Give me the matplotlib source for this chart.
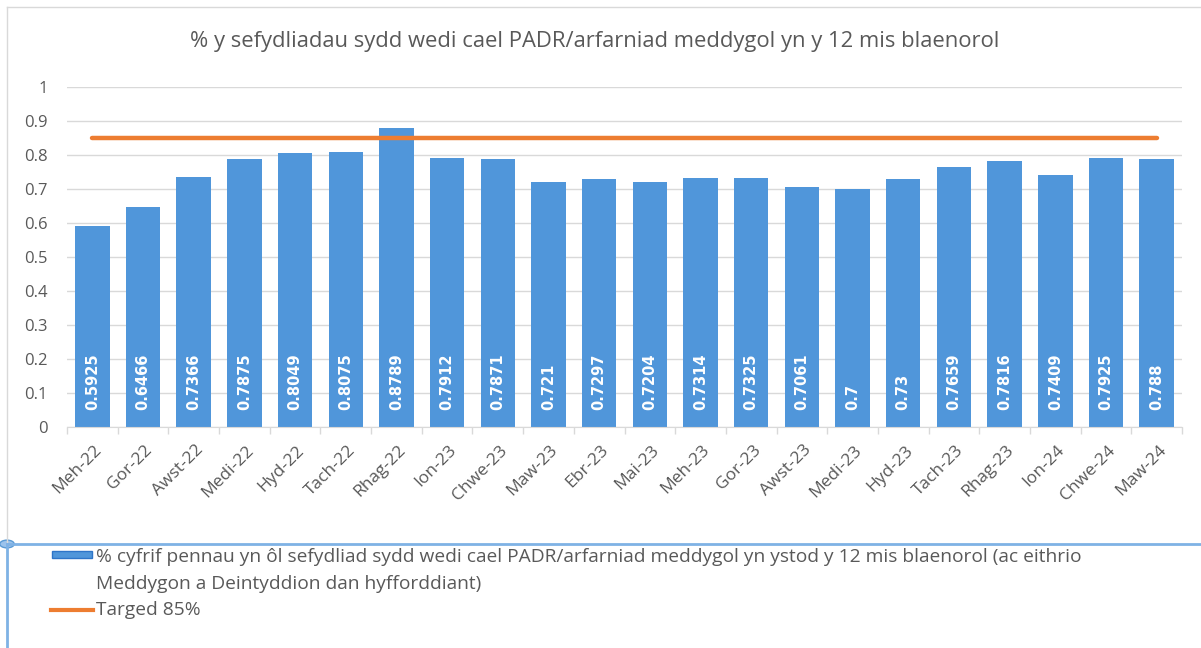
import numpy as np
import matplotlib
matplotlib.use("Agg")
import matplotlib.pyplot as plt
from matplotlib.lines import Line2D
from matplotlib.patches import Rectangle, Circle
from matplotlib.transforms import ScaledTranslation

months = ["Meh-22", "Gor-22", "Awst-22", "Medi-22", "Hyd-22", "Tach-22", "Rhag-22",
          "Ion-23", "Chwe-23", "Maw-23", "Ebr-23", "Mai-23", "Meh-23", "Gor-23",
          "Awst-23", "Medi-23", "Hyd-23", "Tach-23", "Rhag-23", "Ion-24", "Chwe-24", "Maw-24"]
pct_padr = [0.5925, 0.6466, 0.7366, 0.7875, 0.8049, 0.8075, 0.8789, 0.7912, 0.7871, 0.721,
            0.7297, 0.7204, 0.7314, 0.7325, 0.7061, 0.7, 0.73, 0.7659, 0.7816, 0.7409,
            0.7925, 0.788]
target = [0.85] * len(months)
y_ticks = [0, 0.1, 0.2, 0.3, 0.4, 0.5, 0.6, 0.7, 0.8, 0.9, 1]

title = "% y sefydliadau sydd wedi cael PADR/arfarniad meddygol yn y 12 mis blaenorol"
bar_name = ["% cyfrif pennau yn ôl sefydliad sydd wedi cael PADR/arfarniad meddygol yn ystod "
            "y 12 mis blaenorol (ac eithrio",
            "Meddygon a Deintyddion dan hyfforddiant)"]
line_name = "Targed 85%"

BLUE = "#5096DA"
ORANGE = "#ED7D31"
GREY_TXT = "#595959"
GRID = "#D9D9D9"
FONT = "Open Sans"

W, H = 1201, 648
fig = plt.figure(figsize=(W / 100, H / 100), dpi=100)


def fx(px):
    return px / W


def fy(py):
    return 1 - py / H


ax = fig.add_axes([fx(67), fy(427), fx(1182) - fx(67), fy(87) - fy(427)])
x = np.arange(len(months))
ax.bar(x, pct_padr, width=0.68, color=BLUE, zorder=2)
ax.plot(x, target, color=ORANGE, lw=3.2, solid_capstyle="round", zorder=3)

for xi, v in zip(x, pct_padr):
    ax.text(xi, 0.05, str(v), rotation=90, ha="center", va="bottom", color="white",
            fontsize=10.5, fontweight="bold", family="DejaVu Sans", zorder=4)

ax.set_xlim(-0.5, len(months) - 0.5)
ax.set_ylim(0, 1)
ax.set_yticks(y_ticks)
ax.set_yticklabels([f"{t:g}" for t in y_ticks], family=FONT, fontsize=12, color=GREY_TXT)
ax.yaxis.grid(True, color=GRID, lw=1)
ax.set_axisbelow(True)
ax.tick_params(axis="y", length=0, pad=14)

ax.set_xticks(x)
ax.set_xticklabels(months, rotation=45, ha="right", va="center", rotation_mode="anchor",
                   family=FONT, fontsize=12.5, color=GREY_TXT)
ax.tick_params(axis="x", which="major", length=0, pad=15)
ax.set_xticks(np.arange(len(months) + 1) - 0.5, minor=True)
ax.tick_params(axis="x", which="minor", length=5, color=GRID, width=1)
shift = ScaledTranslation(7 / 100, 0, fig.dpi_scale_trans)
for lbl in ax.get_xticklabels():
    lbl.set_transform(lbl.get_transform() + shift)

for s in ["top", "right", "left"]:
    ax.spines[s].set_visible(False)
ax.spines["bottom"].set_color(GRID)

fig.text(fx(595), fy(42), title, ha="center", va="center", family=FONT,
         fontsize=15.8, color=GREY_TXT)

# chart frame and legend area
fig.add_artist(Line2D([fx(7), 1], [fy(7), fy(7)], color="#D9D9D9", lw=1))
fig.add_artist(Line2D([fx(7), fx(7)], [fy(7), fy(544)], color="#D9D9D9", lw=1))
fig.add_artist(Line2D([fx(7), 1], [fy(544), fy(544)], color="#7FB2E5", lw=2))
fig.add_artist(Line2D([fx(7), fx(7)], [fy(544), 0], color="#7FB2E5", lw=2))
fig.add_artist(Circle((fx(7), fy(544)), 0.006, transform=fig.transFigure,
                      facecolor="#9CC3EC", edgecolor="#5B9BD5", lw=1))

fig.add_artist(Rectangle((fx(52), fy(558)), fx(92) - fx(52), fy(551) - fy(558),
                         transform=fig.transFigure, facecolor=BLUE, edgecolor="#2E75C8", lw=1))
fig.add_artist(Line2D([fx(51), fx(93)], [fy(610), fy(610)], color=ORANGE, lw=3))
for i, line in enumerate(bar_name):
    fig.text(fx(96), fy(557 + 27 * i), line, ha="left", va="center", family=FONT,
             fontsize=13.8, color=GREY_TXT)
fig.text(fx(96), fy(610), line_name, ha="left", va="center", family=FONT, fontsize=13.8,
         color=GREY_TXT)

fig.savefig("out.png", dpi=100)
